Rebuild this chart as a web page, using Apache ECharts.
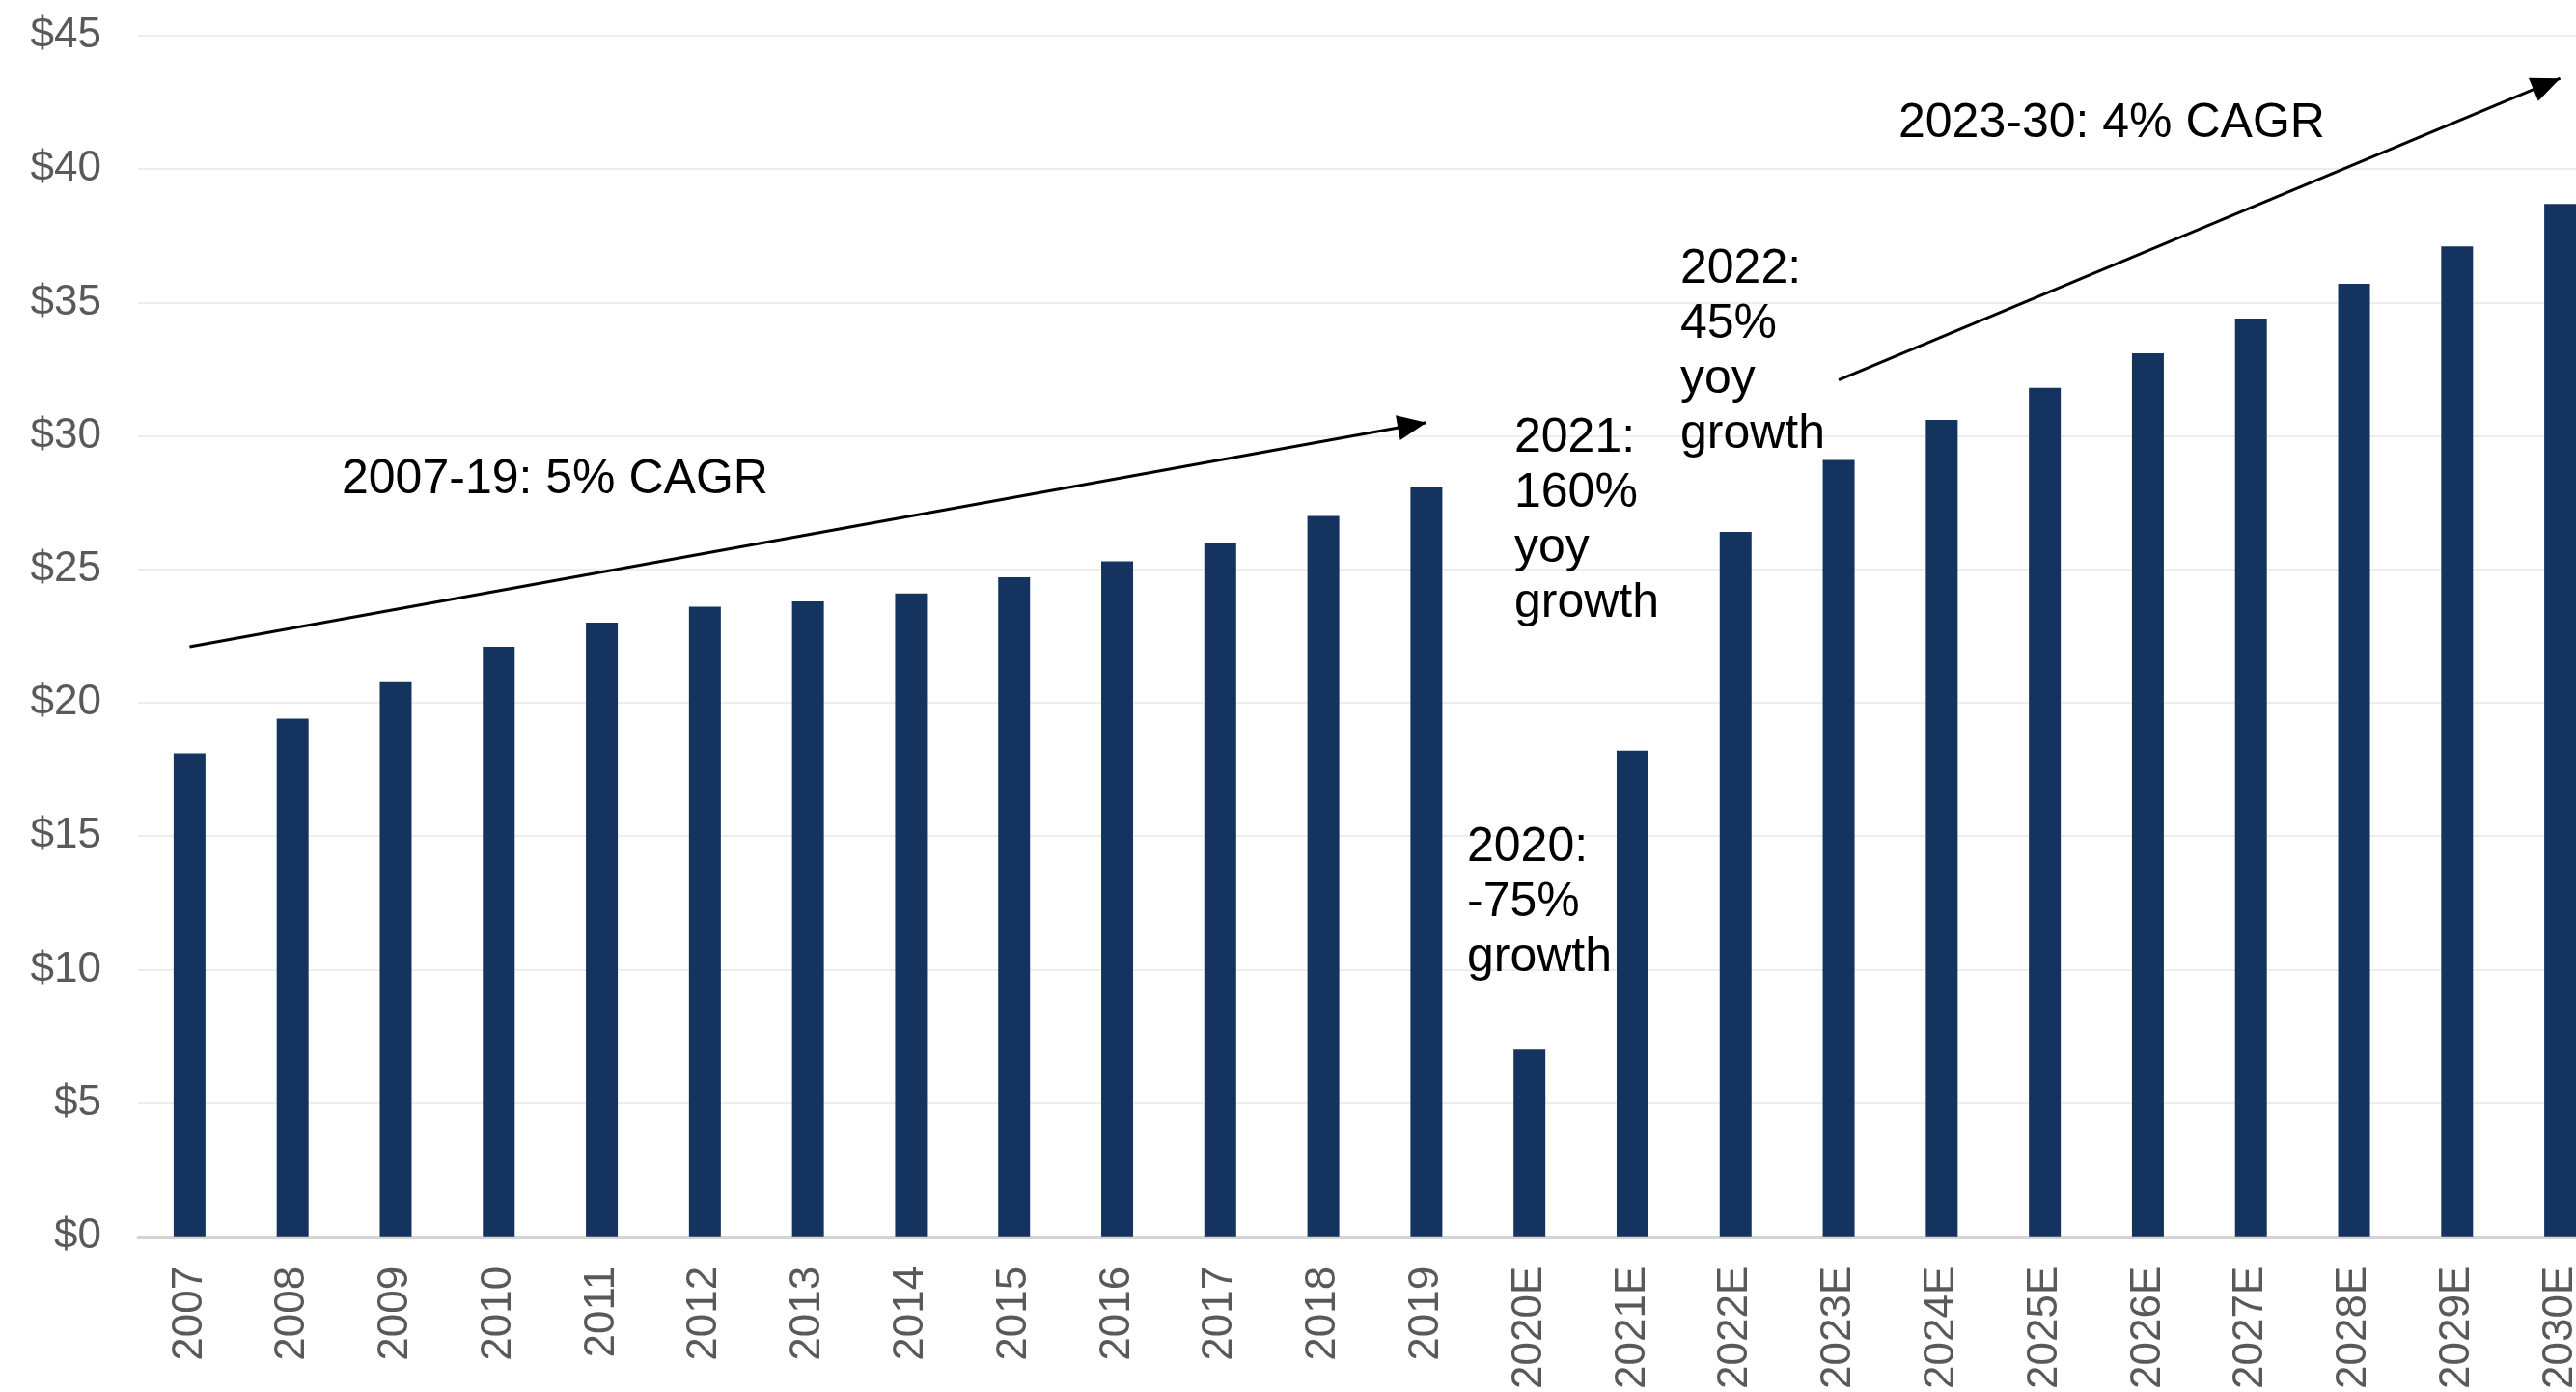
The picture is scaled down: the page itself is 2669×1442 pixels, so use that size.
<!DOCTYPE html>
<html>
<head>
<meta charset="utf-8">
<script src="https://cdn.jsdelivr.net/npm/echarts@6/dist/echarts.min.js"></script>
<style>
  html, body { margin: 0; padding: 0; background: #ffffff; overflow: hidden; }
  /* the plot runs past the right edge of the page, so the last bar is cut */
  #chart { width: 2720px; height: 1442px; }
</style>
</head>
<body>
<div id="chart"></div>
<script>
// Annual values in $ (actuals through 2019, estimates from 2020E)
const years = ['2007', '2008', '2009', '2010', '2011', '2012', '2013', '2014', '2015', '2016',
  '2017', '2018', '2019', '2020E', '2021E', '2022E', '2023E', '2024E', '2025E', '2026E',
  '2027E', '2028E', '2029E', '2030E'];
const values = [18.1, 19.4, 20.8, 22.1, 23.0, 23.6, 23.8, 24.1, 24.7, 25.3,
  26.0, 27.0, 28.1, 7.0, 18.2, 26.4, 29.1, 30.6, 31.8, 33.1,
  34.4, 35.7, 37.1, 38.7];
const yTicks = { min: 0, max: 45, step: 5 };

// Trend arrows: [category index, value] for start and end
const trendArrows = [
  { from: [0, 22.1], to: [12, 30.5] },
  { from: [16, 32.1], to: [23, 43.4] }
];

// Callout texts
const notes = [
  { text: '2007-19: 5% CAGR', x: 354, y: 469 },
  { text: '2023-30: 4% CAGR', x: 1967, y: 100 },
  { text: '2020:\n-75%\ngrowth', x: 1520, y: 850 },
  { text: '2021:\n160%\nyoy\ngrowth', x: 1569, y: 426 },
  { text: '2022:\n45%\nyoy\ngrowth', x: 1741, y: 251 }
];

const FONT = '"Liberation Sans", Arial, Helvetica, sans-serif';
const chart = echarts.init(document.getElementById('chart'), null, { renderer: 'canvas' });

chart.setOption({
  animation: false,
  backgroundColor: '#ffffff',
  grid: { left: 143, top: 37, width: 2563, bottom: 159, containLabel: false },
  xAxis: {
    type: 'category',
    data: years,
    axisTick: { show: false },
    axisLine: { lineStyle: { color: '#d4d4d4', width: 3 } },
    axisLabel: {
      rotate: 90,
      margin: 31,
      fontSize: 44,
      color: '#595959',
      fontFamily: FONT,
      interval: 0
    }
  },
  yAxis: {
    type: 'value',
    min: yTicks.min,
    max: yTicks.max,
    interval: yTicks.step,
    axisLine: { show: false },
    axisTick: { show: false },
    splitLine: { lineStyle: { color: '#ededed', width: 2 } },
    axisLabel: {
      margin: 38,
      fontSize: 44,
      color: '#595959',
      fontFamily: FONT,
      formatter: v => '$' + v
    }
  },
  series: [{
    type: 'bar',
    data: values,
    barWidth: 33,
    itemStyle: { color: '#14345f' },
    markLine: {
      silent: true,
      symbol: ['none', 'triangle'],
      symbolSize: [26, 30],
      // pull the arrowhead back so its tip sits on the line end
      symbolOffset: [[0, 0], [0, 15]],
      label: { show: false },
      lineStyle: { color: '#000000', width: 3, type: 'solid' },
      data: trendArrows.map(a => [{ coord: a.from }, { coord: a.to }])
    }
  }],
  graphic: notes.map(n => ({
    type: 'text',
    left: n.x,
    top: n.y,
    z: 10,
    style: {
      text: n.text,
      fill: '#000000',
      font: '50px ' + FONT,
      lineHeight: 57
    }
  }))
});
</script>
</body>
</html>
